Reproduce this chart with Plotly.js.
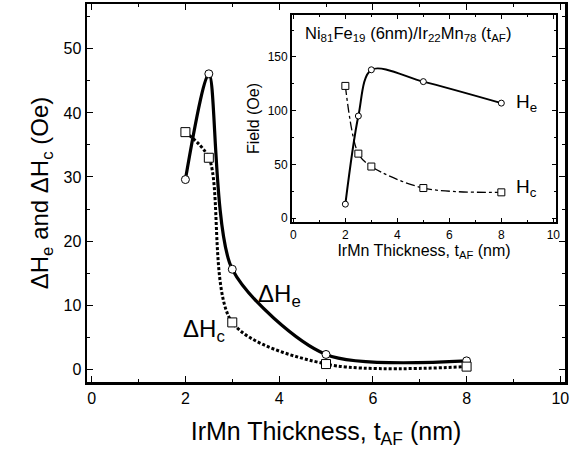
<!DOCTYPE html>
<html><head><meta charset="utf-8">
<script src="https://cdn.plot.ly/plotly-3.0.1.min.js"></script>
<style>html,body{margin:0;padding:0;background:#fff;}#chart{width:579px;height:451px;}</style>
</head><body><div id="chart"></div>
<script>
// Main plot: Delta H vs IrMn thickness
const thickness = [2, 2.5, 3, 5, 8];
const dHe = [29.6, 46.1, 15.6, 2.3, 1.3];
const dHc = [37.0, 33.0, 7.3, 0.8, 0.4];
// Inset: Field vs IrMn thickness
const insetHe = [13, 95, 138, 127, 107];
const insetHc = [123, 60, 48, 28, 24];
const xTicks = [0, 2, 4, 6, 8, 10];
const yTicksMain = [0, 10, 20, 30, 40, 50];
const yTicksInset = [0, 50, 100, 150];

const F = 'Arial, "Liberation Sans", Helvetica, sans-serif';
const mk = (sym, sz) => ({symbol: sym, size: sz, color: '#fff', line: {color: '#000', width: 1}});

const traces = [
  {x: thickness, y: dHe, mode: 'lines+markers', line: {color: '#000', width: 3.2, shape: 'spline', smoothing: 0.75}, marker: mk('circle', 8), xaxis: 'x', yaxis: 'y'},
  {x: thickness, y: dHc, mode: 'lines+markers', line: {color: '#000', width: 3, shape: 'spline', smoothing: 0.85, dash: '3px,2px'}, marker: mk('square', 9), xaxis: 'x', yaxis: 'y'},
  {x: thickness, y: insetHe, mode: 'lines+markers', line: {color: '#000', width: 2, shape: 'spline', smoothing: 0.9}, marker: mk('circle', 6), xaxis: 'x2', yaxis: 'y2'},
  {x: thickness, y: insetHc, mode: 'lines+markers', line: {color: '#000', width: 1.3, shape: 'spline', smoothing: 0.9, dash: 'dashdot'}, marker: mk('square', 7), xaxis: 'x2', yaxis: 'y2'}
];

const axBase = {showline: true, linecolor: '#000', mirror: 'ticks', ticks: 'inside', tickcolor: '#000', showgrid: false, zeroline: false, fixedrange: true};

const layout = {
  width: 579, height: 451,
  margin: {l: 87, r: 14, t: 4, b: 69},
  paper_bgcolor: '#fff', plot_bgcolor: '#fff',
  showlegend: false,
  font: {family: F, color: '#000'},
  xaxis: Object.assign({}, axBase, {
    domain: [0, 1], range: [-0.1, 10.1], tickvals: xTicks, linewidth: 2.5, ticklen: 6, tickwidth: 1,
    minor: {ticks: 'inside', dtick: 1, ticklen: 3, tickcolor: '#000'},
    tickfont: {size: 16, family: F},
    title: {text: 'IrMn Thickness, t<sub>AF</sub> (nm)', font: {size: 25, family: F}, standoff: 17}
  }),
  yaxis: Object.assign({}, axBase, {
    domain: [0, 1], range: [-2, 57], tickvals: yTicksMain, linewidth: 2.5, ticklen: 6, tickwidth: 1,
    minor: {ticks: 'inside', dtick: 5, ticklen: 3, tickcolor: '#000'},
    tickfont: {size: 16, family: F},
    title: {text: 'ΔH<sub>e</sub> and ΔH<sub>c</sub> (Oe)', font: {size: 24, family: F}, standoff: 8}
  }),
  xaxis2: Object.assign({}, axBase, {
    domain: [0.429, 0.981], anchor: 'y2', range: [-0.05, 10.1], tickvals: xTicks, linewidth: 2, ticklen: 4, tickwidth: 1,
    minor: {ticks: 'inside', dtick: 1, ticklen: 2, tickcolor: '#000'},
    tickfont: {size: 12, family: F},
    title: {text: 'IrMn Thickness, t<sub>AF</sub> (nm)', font: {size: 16, family: F}, standoff: 2}
  }),
  yaxis2: Object.assign({}, axBase, {
    domain: [0.423, 0.971], anchor: 'x2', range: [-3.7, 189], tickvals: yTicksInset, linewidth: 2, ticklen: 4, tickwidth: 1,
    minor: {ticks: 'inside', dtick: 25, ticklen: 2, tickcolor: '#000'},
    tickfont: {size: 12, family: F},
    title: {text: 'Field (Oe)', font: {size: 16, family: F}, standoff: 4}
  }),
  annotations: [
    {text: 'ΔH<sub>e</sub>', x: 3.5, y: 11.5, xref: 'x', yref: 'y', xanchor: 'left', yanchor: 'middle', showarrow: false, font: {size: 24, family: F}},
    {text: 'ΔH<sub>c</sub>', x: 1.9, y: 6.0, xref: 'x', yref: 'y', xanchor: 'left', yanchor: 'middle', showarrow: false, font: {size: 24, family: F}},
    {text: 'H<sub>e</sub>', x: 8.5, y: 107, xref: 'x2', yref: 'y2', xanchor: 'left', yanchor: 'middle', showarrow: false, font: {size: 19, family: F}},
    {text: 'H<sub>c</sub>', x: 8.5, y: 28, xref: 'x2', yref: 'y2', xanchor: 'left', yanchor: 'middle', showarrow: false, font: {size: 19, family: F}},
    {text: 'Ni<sub>81</sub>Fe<sub>19</sub> (6nm)/Ir<sub>22</sub>Mn<sub>78</sub> (t<sub>AF</sub>)', x: 0.04, y: 0.965, xref: 'x2 domain', yref: 'y2 domain', xanchor: 'left', yanchor: 'top', showarrow: false, font: {size: 16.5, family: F}}
  ]
};

Plotly.newPlot('chart', traces, layout, {displayModeBar: false, staticPlot: true});
</script>
</body></html>
